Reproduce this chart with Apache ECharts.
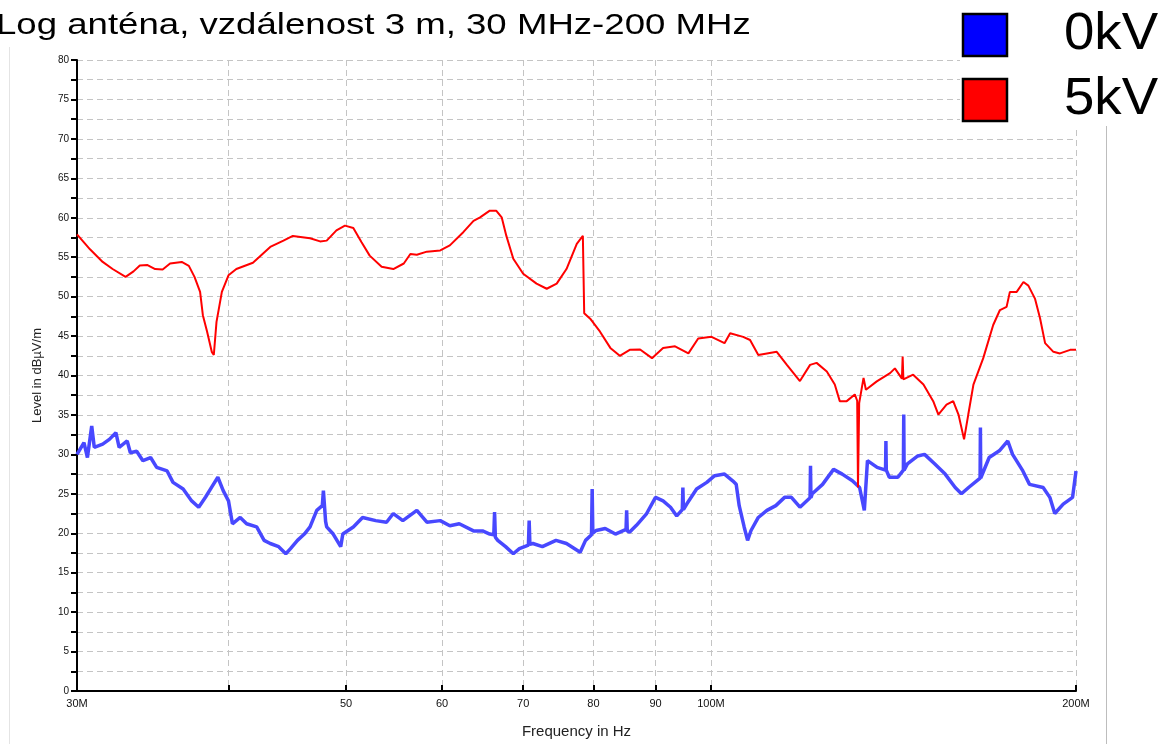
<!DOCTYPE html>
<html><head><meta charset="utf-8">
<script src="https://cdn.jsdelivr.net/npm/echarts@6/dist/echarts.min.js"></script>
<style>html,body{margin:0;padding:0;background:#fff}#c{width:1160px;height:744px}</style>
</head><body><div id="c"></div>
<script>
const titleText = 'Log anténa, vzdálenost 3 m, 30 MHz-200 MHz';
const seriesNames = ['0kV', '5kV'];
const xTickValues = [30, 40, 50, 60, 70, 80, 90, 100, 200];
const xLabelValues = [30, 50, 60, 70, 80, 90, 100, 200];
const xLabelTexts = ['30M', '50', '60', '70', '80', '90', '100M', '200M'];
const xAxisName = 'Frequency in Hz';
const yAxisName = 'Level in dBµV/m';

// 5kV trace (MHz, dBµV/m)
const redFreq = [30.0,30.75,31.5,32.1,32.9,33.4,33.8,34.3,34.8,35.3,35.8,36.6,37.1,37.5,37.9,38.1,38.4,38.75,38.9,39.1,39.5,40.0,40.6,41.9,43.3,44.4,45.2,46.7,47.6,48.2,49.1,49.9,50.7,51.5,52.3,53.5,54.7,55.8,56.5,57.2,58.3,59.8,60.9,62.5,63.7,64.5,65.7,66.5,67.2,67.8,68.7,70.0,71.8,73.2,74.6,76.0,77.5,78.4,78.6,79.5,81.0,82.6,84.1,85.7,87.4,89.4,91.3,93.4,95.8,97.6,100.1,102.6,103.7,106.3,107.7,109.4,111.2,113.3,115.5,118.4,120.7,122.2,124.6,126.5,127.7,129.4,131.4,132.0,132.2,132.5,133.6,134.2,137.0,140.5,141.8,143.7,143.9,144.1,146.8,149.7,152.5,154.0,156.4,158.4,160.0,161.7,163.0,164.6,167.7,170.9,173.1,175.3,176.4,178.7,181.0,182.7,185.0,186.8,188.6,191.6,194.0,197.8,200.0];
const redLevel = [57.9,56.0,54.4,53.5,52.5,53.2,53.95,54.0,53.5,53.45,54.2,54.4,53.9,52.5,50.6,47.65,45.6,43.0,42.6,46.8,50.6,52.7,53.5,54.3,56.3,57.1,57.7,57.4,57.0,57.1,58.4,59.0,58.7,56.9,55.2,53.8,53.5,54.2,55.4,55.3,55.7,55.85,56.5,58.2,59.6,60.05,60.9,60.9,60.05,57.7,54.8,52.9,51.65,51.0,51.65,53.5,56.7,57.7,47.9,47.2,45.55,43.5,42.5,43.25,43.3,42.2,43.5,43.7,42.8,44.7,44.9,44.1,45.35,44.9,44.5,42.6,42.8,43.0,41.35,39.3,41.35,41.6,40.5,38.85,36.75,36.75,37.6,36.8,25.8,36.5,39.7,38.2,39.25,40.3,40.9,39.6,42.4,39.5,40.1,38.85,36.75,35.05,36.3,36.75,35.05,31.9,35.05,38.85,42.2,46.4,48.3,48.7,50.6,50.6,51.85,51.4,49.75,47.25,44.1,43.0,42.8,43.25,43.25];

// 0kV trace (MHz, dBµV/m)
const blueFreq = [30.0,30.4,30.6,30.85,31.0,31.5,31.9,32.3,32.5,33.0,33.2,33.6,34.0,34.5,34.9,35.6,36.0,36.7,37.3,37.8,38.3,38.8,39.2,39.6,40.0,40.3,40.9,41.4,42.2,42.8,43.3,44.0,44.6,45.0,45.6,46.2,46.7,47.3,47.8,47.9,48.1,48.2,48.8,49.5,49.7,50.7,51.6,52.9,54.0,54.7,55.7,57.2,58.3,59.8,60.9,62.0,63.7,64.8,65.7,66.2,66.3,66.4,66.7,67.7,68.7,69.5,70.7,70.8,70.9,71.3,72.6,74.5,76.0,78.0,78.8,79.7,79.8,79.9,80.4,81.8,83.4,85.1,85.2,85.3,85.7,86.8,88.5,90.0,91.3,92.6,93.7,94.7,94.8,94.9,95.5,97.3,99.2,100.7,102.6,104.2,104.9,105.5,105.9,106.5,107.2,107.9,109.4,111.2,113.1,115.0,116.5,118.4,120.7,120.8,120.9,121.2,123.6,126.2,128.3,130.8,132.6,133.8,134.6,137.1,139.3,139.4,139.5,140.3,142.6,144.1,144.2,144.3,145.2,148.1,150.0,152.9,156.0,159.0,160.9,163.1,166.7,166.8,166.9,169.6,172.9,175.7,177.3,180.8,183.1,187.9,190.3,192.1,195.2,198.7,200.0];
const blueLevel = [30.0,31.5,29.6,33.6,30.9,31.3,31.9,32.75,30.9,31.7,30.2,30.4,29.2,29.6,28.35,27.9,26.45,25.6,24.1,23.3,24.6,26.0,27.1,25.4,24.1,21.2,22.0,21.2,20.8,19.1,18.7,18.3,17.4,18.05,19.1,19.9,20.8,22.9,23.5,25.4,21.5,20.8,19.9,18.3,19.9,20.8,22.0,21.6,21.4,22.5,21.6,22.9,21.4,21.6,20.95,21.2,20.3,20.3,19.9,19.8,22.7,19.5,19.1,18.3,17.4,18.05,18.5,21.6,18.6,18.7,18.3,19.1,18.7,17.6,19.1,19.8,25.6,20.0,20.35,20.6,19.9,20.5,22.9,20.3,20.15,21.0,22.5,24.55,24.1,23.3,22.2,23.0,25.8,23.0,23.7,25.6,26.45,27.3,27.5,26.65,26.2,23.5,23.3,20.8,19.1,20.35,22.0,22.9,23.5,24.55,24.55,23.3,24.5,28.55,24.5,25.0,26.2,28.1,27.5,26.65,25.8,22.9,29.2,28.35,28.0,31.7,28.0,27.1,27.1,28.0,35.05,28.0,28.8,29.8,30.0,28.8,27.5,25.8,25.0,25.8,27.0,33.4,27.0,29.6,30.45,31.7,30.0,27.9,26.2,25.8,24.55,22.5,23.7,24.55,27.9];

const pairs = (xs, ys) => xs.map((x, i) => [x, ys[i]]);
const fontFam = '"Liberation Sans", Arial, sans-serif';
const gridDash = { color: '#c4c4c4', width: 1, type: [6, 4] };

function xLabel(v) {
  let val = (typeof v === 'object' && v !== null) ? v.value : v;
  if (val < 5) val = Math.pow(10, val);
  const i = xLabelValues.findIndex(x => Math.abs(x - val) < 0.5);
  return i >= 0 ? xLabelTexts[i] : '';
}

const chart = echarts.init(document.getElementById('c'), null, { renderer: 'canvas' });
chart.setOption({
  animation: false,
  backgroundColor: '#fff',
  grid: { left: 77, right: 84, top: 60, bottom: 49 },
  xAxis: {
    type: 'log', logBase: 10, min: 30, max: 200,
    name: xAxisName, nameLocation: 'middle', nameGap: 33,
    nameTextStyle: { fontSize: 15, color: '#222', fontFamily: fontFam },
    axisLine: { lineStyle: { color: '#000', width: 2 } },
    axisTick: { show: true, inside: true, length: 6, customValues: xTickValues, lineStyle: { color: '#000', width: 2 } },
    axisLabel: { customValues: xLabelValues, formatter: xLabel, fontSize: 11, color: '#111', fontFamily: fontFam, margin: 7 },
    splitLine: { show: true, lineStyle: gridDash },
    minorTick: { show: false }, minorSplitLine: { show: false }
  },
  yAxis: {
    type: 'value', min: 0, max: 80, interval: 5,
    name: yAxisName, nameLocation: 'middle', nameGap: 33, nameRotate: 90,
    nameTextStyle: { fontSize: 13, color: '#222', fontFamily: fontFam },
    axisLine: { show: true, lineStyle: { color: '#000', width: 2 } },
    axisTick: { show: true, inside: false, length: 6, lineStyle: { color: '#000', width: 2 } },
    minorTick: { show: true, splitNumber: 2, length: 6, lineStyle: { color: '#000', width: 2 } },
    axisLabel: { fontSize: 10, color: '#111', fontFamily: fontFam, margin: 8 },
    splitLine: { show: true, lineStyle: gridDash },
    minorSplitLine: { show: true, lineStyle: gridDash }
  },
  series: [
    { name: seriesNames[0], type: 'line', data: pairs(blueFreq, blueLevel), showSymbol: false, symbol: 'none',
      lineStyle: { color: '#4848ff', width: 3.5 }, z: 3 },
    { name: seriesNames[1], type: 'line', data: pairs(redFreq, redLevel), showSymbol: false, symbol: 'none',
      lineStyle: { color: '#ff0000', width: 2 }, z: 4 }
  ],
  graphic: [
    { type: 'line', z: 50, shape: { x1: 9.5, y1: 47, x2: 9.5, y2: 744 }, style: { stroke: '#e4e4e4', lineWidth: 1 } },
    { type: 'rect', z: 50, shape: { x: 960, y: 0, width: 200, height: 126 }, style: { fill: '#fff' } },
    { type: 'line', z: 51, shape: { x1: 1106.5, y1: 126, x2: 1106.5, y2: 744 }, style: { stroke: '#bdbdbd', lineWidth: 1 } },
    { type: 'rect', z: 52, shape: { x: 963, y: 14, width: 44, height: 42 }, style: { fill: '#0000ff', stroke: '#000', lineWidth: 2.5 } },
    { type: 'rect', z: 52, shape: { x: 963, y: 79, width: 44, height: 42 }, style: { fill: '#ff0000', stroke: '#000', lineWidth: 2.5 } },
    { type: 'text', z: 52, x: 1064, y: 35, scaleX: 1.05, style: { text: seriesNames[0], fontSize: 52, fontFamily: fontFam, fill: '#000', textVerticalAlign: 'middle' } },
    { type: 'text', z: 52, x: 1064, y: 100, scaleX: 1.05, style: { text: seriesNames[1], fontSize: 52, fontFamily: fontFam, fill: '#000', textVerticalAlign: 'middle' } },
    { type: 'text', z: 52, x: -4, y: 26, scaleX: 1.22, style: { text: titleText, fontSize: 30, fontFamily: fontFam, fill: '#000', textVerticalAlign: 'middle' } }
  ]
});
</script>
</body></html>
